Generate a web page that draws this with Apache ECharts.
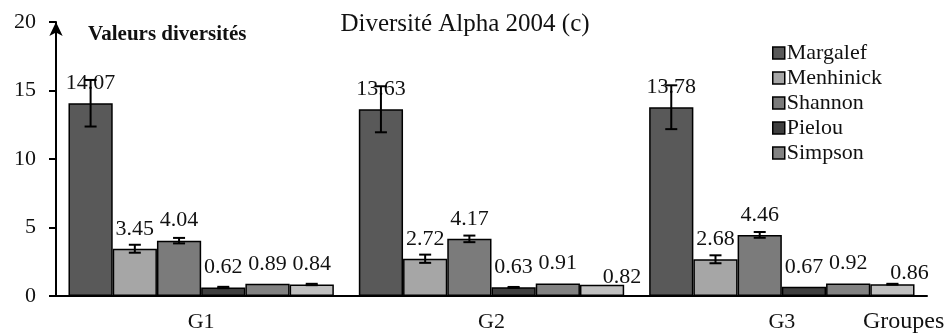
<!DOCTYPE html>
<html><head><meta charset="utf-8">
<script src="https://cdn.jsdelivr.net/npm/echarts@6/dist/echarts.min.js"></script>
<style>html,body{margin:0;padding:0;background:#fff}#c{width:947px;height:333px}</style>
</head><body><div id="c"></div>
<script>
const categories = ['G1', 'G2', 'G3'];
const seriesNames = ['Margalef', 'Menhinick', 'Shannon', 'Pielou', 'Simpson', 'Série 6'];
const legendNames = ['Margalef', 'Menhinick', 'Shannon', 'Pielou', 'Simpson'];
const margalef = [14.07, 13.63, 13.78];
const menhinick = [3.45, 2.72, 2.68];
const shannon = [4.04, 4.17, 4.46];
const pielou = [0.62, 0.63, 0.67];
const simpson = [0.89, 0.91, 0.92];
const serie6 = [0.84, 0.82, 0.86];
const errMargalef = [1.7, 1.68, 1.6];
const errMenhinick = [0.29, 0.3, 0.29];
const errShannon = [0.2, 0.24, 0.21];
const errPielou = [0.05, 0.03, 0.0];
const errSimpson = [0, 0, 0];
const errSerie6 = [0.05, 0, 0.03];
const yTicks = [0, 5, 10, 15, 20];

const values = [margalef, menhinick, shannon, pielou, simpson, serie6];
const errors = [errMargalef, errMenhinick, errShannon, errPielou, errSimpson, errSerie6];
const colors = ['#595959', '#a6a6a6', '#7b7b7b', '#3f3f3f', '#828282', '#c0c0c0'];
const FONT = '"Liberation Serif", "Times New Roman", serif';
const CAT_GAP = 0.086;
const N = values.length;

// per-point label tweaks (style only)
const labelTweak = { '5-1': [20, 12], '5-2': [17, 9] };

const barSeries = values.map((arr, k) => ({
  type: 'bar',
  name: seriesNames[k],
  data: arr.map((v, i) => {
    const t = labelTweak[k + '-' + i];
    return t ? { value: v, label: { offset: t } } : v;
  }),
  barGap: '0%',
  barCategoryGap: (CAT_GAP * 100) + '%',
  itemStyle: { color: colors[k], borderColor: '#000', borderWidth: 1.5 },
  label: {
    show: true, position: 'top', distance: 9,
    fontFamily: FONT, fontSize: 22, color: '#111',
    formatter: p => Number(p.value).toFixed(2)
  },
  z: 2
}));

const errData = [];
values.forEach((arr, k) => arr.forEach((v, i) => {
  if (errors[k][i] > 0) errData.push([i, v, errors[k][i], k]);
}));

const errSeries = {
  type: 'custom',
  name: 'err',
  data: errData,
  encode: { x: 0, y: 1 },
  z: 5,
  silent: true,
  renderItem: (params, api) => {
    const i = api.value(0), v = api.value(1), e = api.value(2), k = api.value(3);
    const c = api.coord([i, v]);
    const catW = api.size([1, 0])[0];
    const groupW = catW * (1 - CAT_GAP);
    const bw = groupW / N;
    const x = c[0] - groupW / 2 + bw * (k + 0.5);
    const yTop = api.coord([i, v + e])[1];
    const yBot = api.coord([i, v - e])[1];
    const cap = 6;
    const st = { stroke: '#000', lineWidth: 2 };
    return {
      type: 'group',
      children: [
        { type: 'line', shape: { x1: x, y1: yTop, x2: x, y2: yBot }, style: st },
        { type: 'line', shape: { x1: x - cap, y1: yTop, x2: x + cap, y2: yTop }, style: st },
        { type: 'line', shape: { x1: x - cap, y1: yBot, x2: x + cap, y2: yBot }, style: st }
      ]
    };
  }
};

const chart = echarts.init(document.getElementById('c'), null, { renderer: 'canvas' });
chart.setOption({
  animation: false,
  backgroundColor: '#fff',
  textStyle: { fontFamily: FONT },
  title: [
    { text: 'Diversité Alpha 2004 (c)', left: 460, top: 7, textAlign: 'center',
      textStyle: { fontFamily: FONT, fontSize: 25, fontWeight: 'normal', color: '#111' } },
    { text: 'Valeurs diversités', left: 83, top: 19,
      textStyle: { fontFamily: FONT, fontSize: 21, fontWeight: 'bold', color: '#111' } },
    { text: 'Groupes', left: 858, top: 305,
      textStyle: { fontFamily: FONT, fontSize: 24, fontWeight: 'normal', color: '#111' } }
  ],
  legend: {
    data: legendNames,
    orient: 'vertical',
    left: 772, top: 42, padding: 0,
    itemWidth: 12, itemHeight: 12, itemGap: 3,
    icon: 'rect',
    itemStyle: { borderColor: '#000', borderWidth: 1.5 },
    textStyle: { fontFamily: FONT, fontSize: 22, color: '#111', padding: [0, 0, 0, -3] }
  },
  grid: { left: 56, right: 20, top: 22, bottom: 37, containLabel: false },
  xAxis: {
    type: 'category',
    data: categories,
    axisLine: { lineStyle: { color: '#000', width: 2 } },
    axisTick: { show: false },
    axisLabel: { fontFamily: FONT, fontSize: 22, color: '#111', margin: 15 },
    splitLine: { show: false }
  },
  yAxis: {
    type: 'value',
    min: yTicks[0], max: yTicks[yTicks.length - 1], interval: yTicks[1] - yTicks[0],
    axisLine: { show: true, lineStyle: { color: '#000', width: 2 }, symbol: ['none', 'arrow'], symbolSize: [10, 14], symbolOffset: [0, 0] },
    axisTick: { show: true, length: 7, lineStyle: { color: '#000', width: 2 } },
    axisLabel: { fontFamily: FONT, fontSize: 22, color: '#111', margin: 20 },
    splitLine: { show: false }
  },
  series: barSeries.concat([errSeries])
});
</script></body></html>
